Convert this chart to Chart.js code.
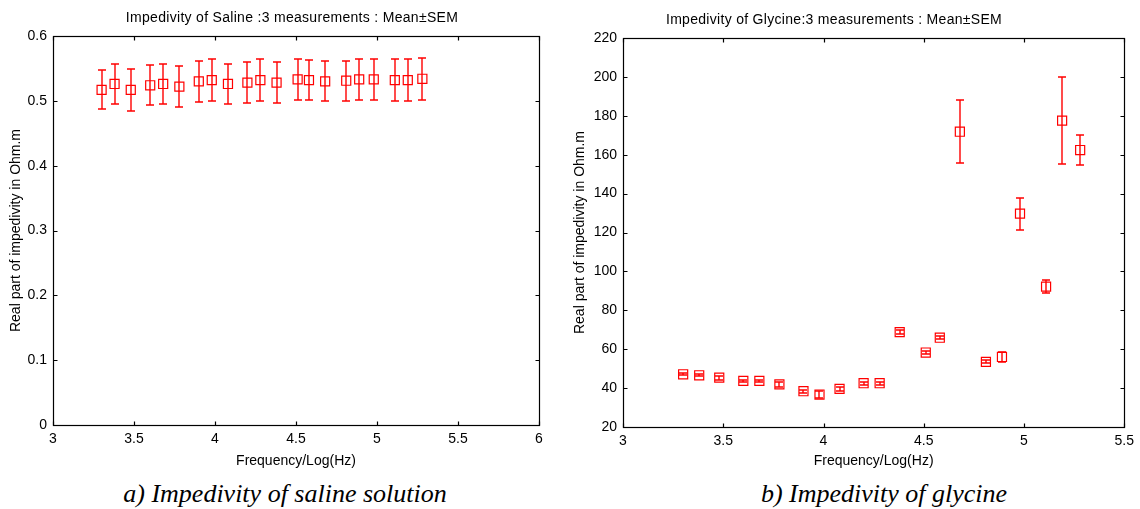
<!DOCTYPE html>
<html>
<head>
<meta charset="utf-8">
<script src="https://cdn.jsdelivr.net/npm/chart.js@4.4.1/dist/chart.umd.min.js"></script>
<style>
  html, body { margin: 0; padding: 0; background: #fff; }
  #wrap { position: relative; width: 1140px; height: 509px; overflow: hidden; }
  canvas { position: absolute; top: 0; }
  .cap { position: absolute; top: 478px; line-height: 32px; font-family: 'Liberation Serif', 'Times New Roman', serif;
         font-style: italic; font-size: 26px; white-space: nowrap; transform: translateX(-50%); color: #000; }
</style>
</head>
<body>
<div id="wrap">
  <canvas id="saline" width="570" height="470" style="left:0"></canvas>
  <canvas id="glycine" width="570" height="470" style="left:570px"></canvas>
  <div class="cap" style="left:285px">a) Impedivity of saline solution</div>
  <div class="cap" style="left:884px">b) Impedivity of glycine</div>
</div>
<script>
// log10 of the measurement frequencies
const logFreq = [3.30, 3.38, 3.48, 3.60, 3.68, 3.78, 3.90, 3.98, 4.08, 4.20, 4.28,
                 4.38, 4.51, 4.58, 4.68, 4.81, 4.89, 4.98, 5.11, 5.19, 5.28];

// saline: mean and SEM of the real part of impedivity (Ohm.m)
const salineMean = [0.517, 0.526, 0.517, 0.524, 0.526, 0.522, 0.530, 0.532, 0.526, 0.528, 0.532,
                    0.528, 0.533, 0.532, 0.530, 0.531, 0.533, 0.533, 0.532, 0.532, 0.534];
const salineSem  = [0.030, 0.031, 0.032, 0.031, 0.031, 0.031, 0.032, 0.032, 0.031, 0.032, 0.032,
                    0.032, 0.031, 0.031, 0.031, 0.031, 0.031, 0.031, 0.032, 0.032, 0.032];

// glycine: mean and SEM of the real part of impedivity (Ohm.m)
const glycineMean = [47.1, 46.6, 45.4, 43.7, 43.7, 41.9, 38.4, 36.7, 39.6, 42.5, 42.5,
                     68.8, 58.3, 65.9, 171.8, 53.5, 56.0, 129.7, 92.2, 177.5, 162.4];
const glycineSem  = [0.6, 0.6, 1.0, 0.6, 0.5, 1.2, 0.8, 1.8, 1.0, 0.7, 0.7,
                     1.2, 0.7, 0.8, 16.2, 0.7, 2.5, 8.2, 3.2, 22.5, 7.6];

// axis tick ranges
const salineXTicks = { min: 3, max: 6, step: 0.5 };
const salineYTicks = { min: 0, max: 0.6, step: 0.1 };
const glycineXTicks = { min: 3, max: 5.5, step: 0.5 };
const glycineYTicks = { min: 20, max: 220, step: 20 };

const titles = {
  saline: 'Impedivity of Saline :3 measurements : Mean\u00b1SEM',
  glycine: 'Impedivity of Glycine:3 measurements : Mean\u00b1SEM'
};
const yTitle = 'Real part of impedivity in Ohm.m';
const xTitle = 'Frequency/Log(Hz)';

Chart.defaults.font.family = "'Liberation Sans', Arial, sans-serif";
Chart.defaults.font.size = 14;
Chart.defaults.color = '#000';

const fmtTick = v => String(+v.toFixed(2));

// draws the boxed frame with inward ticks, the SEM error bars and the title
const framePlugin = {
  id: 'frame',
  afterDatasetsDraw(chart, args, opts) {
    const { ctx, chartArea: a, scales: { x, y } } = chart;
    ctx.save();
    // error bars
    ctx.strokeStyle = '#ff0000';
    ctx.lineWidth = 1.4;
    const pts = chart.data.datasets[0].data;
    pts.forEach((p, i) => {
      const px = Math.round(x.getPixelForValue(p.x));
      const t = Math.round(y.getPixelForValue(p.y + opts.sem[i]));
      const b = Math.round(y.getPixelForValue(p.y - opts.sem[i]));
      const w = opts.cap;
      ctx.beginPath();
      ctx.moveTo(px, t); ctx.lineTo(px, b);
      ctx.moveTo(px - w, t); ctx.lineTo(px + w, t);
      ctx.moveTo(px - w, b); ctx.lineTo(px + w, b);
      ctx.stroke();
    });
    // frame
    ctx.strokeStyle = '#000';
    ctx.lineWidth = 1.2;
    const L = Math.round(a.left) + 0.5, R = Math.round(a.right) + 0.5;
    const T = Math.round(a.top) + 0.5, B = Math.round(a.bottom) + 0.5;
    ctx.strokeRect(L, T, R - L, B - T);
    const tl = 4;
    ctx.beginPath();
    x.ticks.forEach(tk => {
      const px = Math.round(x.getPixelForValue(tk.value)) + 0.5;
      ctx.moveTo(px, B); ctx.lineTo(px, B - tl);
      ctx.moveTo(px, T); ctx.lineTo(px, T + tl);
    });
    y.ticks.forEach(tk => {
      const py = Math.round(y.getPixelForValue(tk.value)) + 0.5;
      ctx.moveTo(L, py); ctx.lineTo(L + tl, py);
      ctx.moveTo(R, py); ctx.lineTo(R - tl, py);
    });
    ctx.stroke();
    // title
    ctx.fillStyle = '#000';
    ctx.font = "14px 'Liberation Sans', Arial, sans-serif";
    if ('letterSpacing' in ctx) ctx.letterSpacing = '0.3px';
    ctx.textAlign = 'center';
    ctx.textBaseline = 'middle';
    ctx.fillText(opts.title, opts.titleX, opts.titleY);
    ctx.restore();
  }
};

function makeChart(id, xs, ys, sem, xr, yr, geom) {
  const data = xs.map((v, i) => ({ x: v, y: ys[i] }));
  return new Chart(document.getElementById(id), {
    type: 'scatter',
    data: {
      datasets: [{
        data,
        pointStyle: 'rect',
        pointRadius: 6.4,
        pointHoverRadius: 6.4,
        borderColor: '#ff0000',
        backgroundColor: 'rgba(0,0,0,0)',
        borderWidth: 1.2
      }]
    },
    options: {
      responsive: false,
      animation: false,
      devicePixelRatio: 1,
      layout: { padding: { top: geom.top, right: geom.right, left: 0, bottom: 0 } },
      plugins: {
        legend: { display: false },
        tooltip: { enabled: false },
        title: { display: false },
        frame: { sem, cap: 4, title: geom.title, titleX: geom.titleX, titleY: geom.titleY }
      },
      scales: {
        x: {
          type: 'linear',
          min: xr.min, max: xr.max,
          ticks: { stepSize: xr.step, padding: 6, maxRotation: 0, callback: fmtTick },
          grid: { display: false, drawTicks: false },
          border: { display: false },
          title: { display: true, text: xTitle, padding: { top: 0, bottom: geom.xTitlePad } },
          afterFit: s => { s.height = geom.xHeight; }
        },
        y: {
          type: 'linear',
          min: yr.min, max: yr.max,
          ticks: { stepSize: yr.step, padding: 6, callback: fmtTick },
          grid: { display: false, drawTicks: false },
          border: { display: false },
          title: { display: true, text: yTitle, padding: { top: geom.yTitlePad, bottom: 0 } },
          afterFit: s => { s.width = 53; }
        }
      }
    },
    plugins: [framePlugin]
  });
}

makeChart('saline', logFreq, salineMean, salineSem, salineXTicks, salineYTicks, {
  top: 36, right: 31, xHeight: 45, xTitlePad: 0, yTitlePad: 7.6,
  title: titles.saline, titleX: 292, titleY: 18
});

makeChart('glycine', logFreq, glycineMean, glycineSem, glycineXTicks, glycineYTicks, {
  top: 38, right: 10, xHeight: 43, xTitlePad: 0, yTitlePad: 1.6,
  title: titles.glycine, titleX: 264, titleY: 20
});
</script>
</body>
</html>
